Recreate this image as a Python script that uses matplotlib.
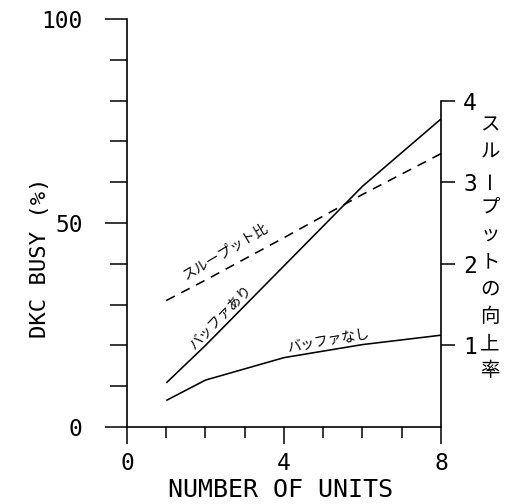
import matplotlib
matplotlib.use("Agg")
import matplotlib.pyplot as plt
from matplotlib.ticker import MultipleLocator

# ---- data ----
units = [1, 2, 4, 6, 8]
busy_with_buffer = [10.8, 20.0, 39.5, 59.0, 75.5]      # バッファあり (%)
busy_without_buffer = [6.5, 11.5, 17.0, 20.2, 22.5]    # バッファなし (%)
throughput_ratio = [1.55, 1.80, 2.32, 2.85, 3.35]      # スループット比 (right axis)

left_ticks = [0, 50, 100]
left_tick_labels = ["0", "50", "100"]
x_ticks = [0, 4, 8]
x_tick_labels = ["0", "4", "8"]
right_ticks = [1, 2, 3, 4]
right_tick_labels = ["1", "2", "3", "4"]

xlabel = "NUMBER OF UNITS"
ylabel = "DKC BUSY (%)"
right_label = "スループットの向上率"
label_ratio = "スループット比"
label_with = "バッファあり"
label_without = "バッファなし"

mono = "DejaVu Sans Mono"
jp = ["Noto Sans CJK JP", "DejaVu Sans"]

W, H = 506, 504
fig = plt.figure(figsize=(W / 100, H / 100), dpi=100)
ax = fig.add_axes([127 / W, 1 - 427 / H, (441 - 127) / W, (427 - 19) / H])
ax.set_xlim(0, 8)
ax.set_ylim(0, 100)

lw = 1.15
ax.plot(units, busy_with_buffer, color="black", lw=lw, solid_capstyle="butt")
ax.plot(units, busy_without_buffer, color="black", lw=lw, solid_capstyle="butt")

ax2 = ax.twinx()
ax2.set_ylim(0, 5)
ax2.plot(units, throughput_ratio, color="black", lw=lw, linestyle=(0, (6, 4.5)))

# spines
for s in ["top", "right"]:
    ax.spines[s].set_visible(False)
for s in ["top", "left", "bottom"]:
    ax2.spines[s].set_visible(False)
ax2.spines["right"].set_bounds(0, 4)
for s in ["left", "bottom"]:
    ax.spines[s].set_linewidth(1.2)
ax2.spines["right"].set_linewidth(1.2)

# left ticks
ax.set_yticks(left_ticks)
ax.set_yticklabels(left_tick_labels, fontfamily=mono, fontsize=16.5)
ax.yaxis.set_minor_locator(MultipleLocator(10))
ax.tick_params(axis="y", which="major", direction="out", length=16, width=1.1, pad=16)
ax.tick_params(axis="y", which="minor", direction="out", length=12, width=1.1)

# x ticks
ax.set_xticks(x_ticks)
ax.set_xticklabels(x_tick_labels, fontfamily=mono, fontsize=16.5)
ax.xaxis.set_minor_locator(MultipleLocator(1))
ax.tick_params(axis="x", which="major", direction="out", length=12, width=1.1, pad=6)
ax.tick_params(axis="x", which="minor", direction="out", length=8, width=1.1)

# right ticks
ax2.set_yticks(right_ticks)
ax2.set_yticklabels(right_tick_labels, fontfamily=mono, fontsize=16.5)
ax2.tick_params(axis="y", which="major", direction="out", length=10, width=1.1, pad=6)

fig.text(280 / W, 1 - 490 / H, xlabel, family=mono, fontsize=18,
         ha="center", va="center")
fig.text(40 / W, 1 - 258 / H, ylabel, family=mono, fontsize=16,
         rotation=90, ha="center", va="center")

# curve labels
fig.text(226 / W, 1 - 252 / H, label_ratio, family=jp, fontsize=10,
         rotation=31, ha="center", va="center")
fig.text(220 / W, 1 - 318 / H, label_with, family=jp, fontsize=10,
         rotation=46, ha="center", va="center")
fig.text(328 / W, 1 - 341 / H, label_without, family=jp, fontsize=10,
         rotation=10, ha="center", va="center")

# vertical right label
y0, y1 = 125, 371
n = len(right_label)
for i, ch in enumerate(right_label):
    y = y0 + (y1 - y0) * i / (n - 1)
    rot = 90 if ch == "ー" else 0
    fig.text(490 / W, 1 - y / H, ch, family=jp, fontsize=14,
             ha="center", va="center", rotation=rot)

fig.savefig("out.png", dpi=100)
